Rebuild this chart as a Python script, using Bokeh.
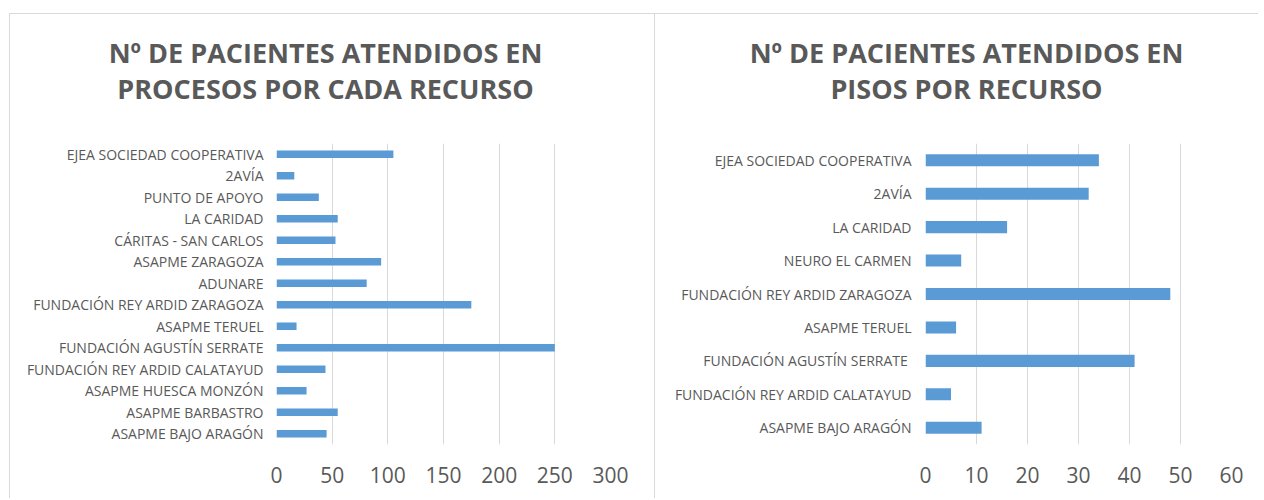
from bokeh.plotting import figure
from bokeh.models import Range1d, FactorRange, FixedTicker, Spacer
from bokeh.core.properties import value
from bokeh.layouts import row, column
from bokeh.embed import file_html
from bokeh.resources import INLINE

# ---- data: left chart (procesos) ----
left_title = ["Nº DE PACIENTES ATENDIDOS EN", "PROCESOS POR CADA RECURSO"]
left_cats = [
    "EJEA SOCIEDAD COOPERATIVA",
    "2AVÍA",
    "PUNTO DE APOYO",
    "LA CARIDAD",
    "CÁRITAS - SAN CARLOS",
    "ASAPME ZARAGOZA",
    "ADUNARE",
    "FUNDACIÓN REY ARDID ZARAGOZA",
    "ASAPME TERUEL",
    "FUNDACIÓN AGUSTÍN SERRATE",
    "FUNDACIÓN REY ARDID CALATAYUD",
    "ASAPME HUESCA MONZÓN",
    "ASAPME BARBASTRO",
    "ASAPME BAJO ARAGÓN",
]
left_vals = [105, 16, 38, 55, 53, 94, 81, 175, 18, 250, 44, 27, 55, 45]
left_ticks = [0, 50, 100, 150, 200, 250, 300]

# ---- data: right chart (pisos) ----
right_title = ["Nº DE PACIENTES ATENDIDOS EN", "PISOS POR RECURSO"]
right_cats = [
    "EJEA SOCIEDAD COOPERATIVA",
    "2AVÍA",
    "LA CARIDAD",
    "NEURO EL CARMEN",
    "FUNDACIÓN REY ARDID ZARAGOZA",
    "ASAPME TERUEL",
    "FUNDACIÓN AGUSTÍN SERRATE ",
    "FUNDACIÓN REY ARDID CALATAYUD",
    "ASAPME BAJO ARAGÓN",
]
right_vals = [34, 32, 16, 7, 48, 6, 41, 5, 11]
right_ticks = [0, 10, 20, 30, 40, 50, 60]

BAR = "#5B9BD5"
TXT = "#595959"
GRID = "#D9D9D9"
FONT = "Open Sans"
TH = 130      # title strip height
H = 355       # chart height
FH = 301      # frame height
border = "1px solid " + GRID


def title_fig(lines, width, cx, styles):
    t = figure(width=width, height=TH, x_range=Range1d(0, width),
               y_range=Range1d(0, TH), output_backend="svg",
               toolbar_location=None, title=None, min_border=0)
    if hasattr(t, "frame_align"):
        t.frame_align = False
    t.axis.visible = False
    t.grid.visible = False
    t.outline_line_color = None
    t.text(x=[cx, cx], y=[TH - 38, TH - 74], text=lines,
           text_font=value(FONT), text_font_size="27px",
           text_font_style="bold", text_color=TXT,
           text_align="center", text_baseline="middle")
    t.styles = styles
    return t


def chart(cats, vals, ticks, width, fl, fw, standoff, styles):
    p = figure(width=width, height=H,
               y_range=FactorRange(factors=list(reversed(cats))),
               x_range=Range1d(ticks[0], ticks[-1]),
               output_backend="svg", toolbar_location=None, title=None,
               min_border_left=fl, min_border_right=width - fl - fw,
               min_border_top=0, min_border_bottom=H - FH)
    if hasattr(p, "frame_align"):
        p.frame_align = False
    p.hbar(y=cats, right=vals, left=0, height=0.36, fill_color=BAR,
           line_color=None)
    p.xaxis.ticker = FixedTicker(ticks=ticks)
    p.xgrid.ticker = FixedTicker(ticks=ticks)
    p.xgrid.grid_line_color = GRID
    p.ygrid.visible = False
    p.outline_line_color = None
    for ax in (p.xaxis[0], p.yaxis[0]):
        ax.axis_line_color = None
        ax.major_tick_line_color = None
        ax.minor_tick_line_color = None
        ax.major_label_text_color = TXT
        ax.major_label_text_font = FONT
    p.xaxis.major_label_text_font_size = "21px"
    p.xaxis.major_label_standoff = 16
    p.yaxis.major_label_text_font_size = "14px"
    p.yaxis.major_label_standoff = standoff
    p.styles = styles
    return p


t1 = title_fig(left_title, 646, 315,
               {"border-top": border, "border-left": border, "border-right": border})
p1 = chart(left_cats, left_vals, left_ticks, 646, 266, 334, 7,
           {"border-left": border, "border-right": border})
t2 = title_fig(right_title, 603, 311, {"border-top": border})
p2 = chart(right_cats, right_vals, right_ticks, 603, 270, 306, 8, {})

layout = column(Spacer(height=13),
                row(Spacer(width=9), column(t1, p1), column(t2, p2)))
open("out.html", "w").write(file_html(layout, INLINE))
